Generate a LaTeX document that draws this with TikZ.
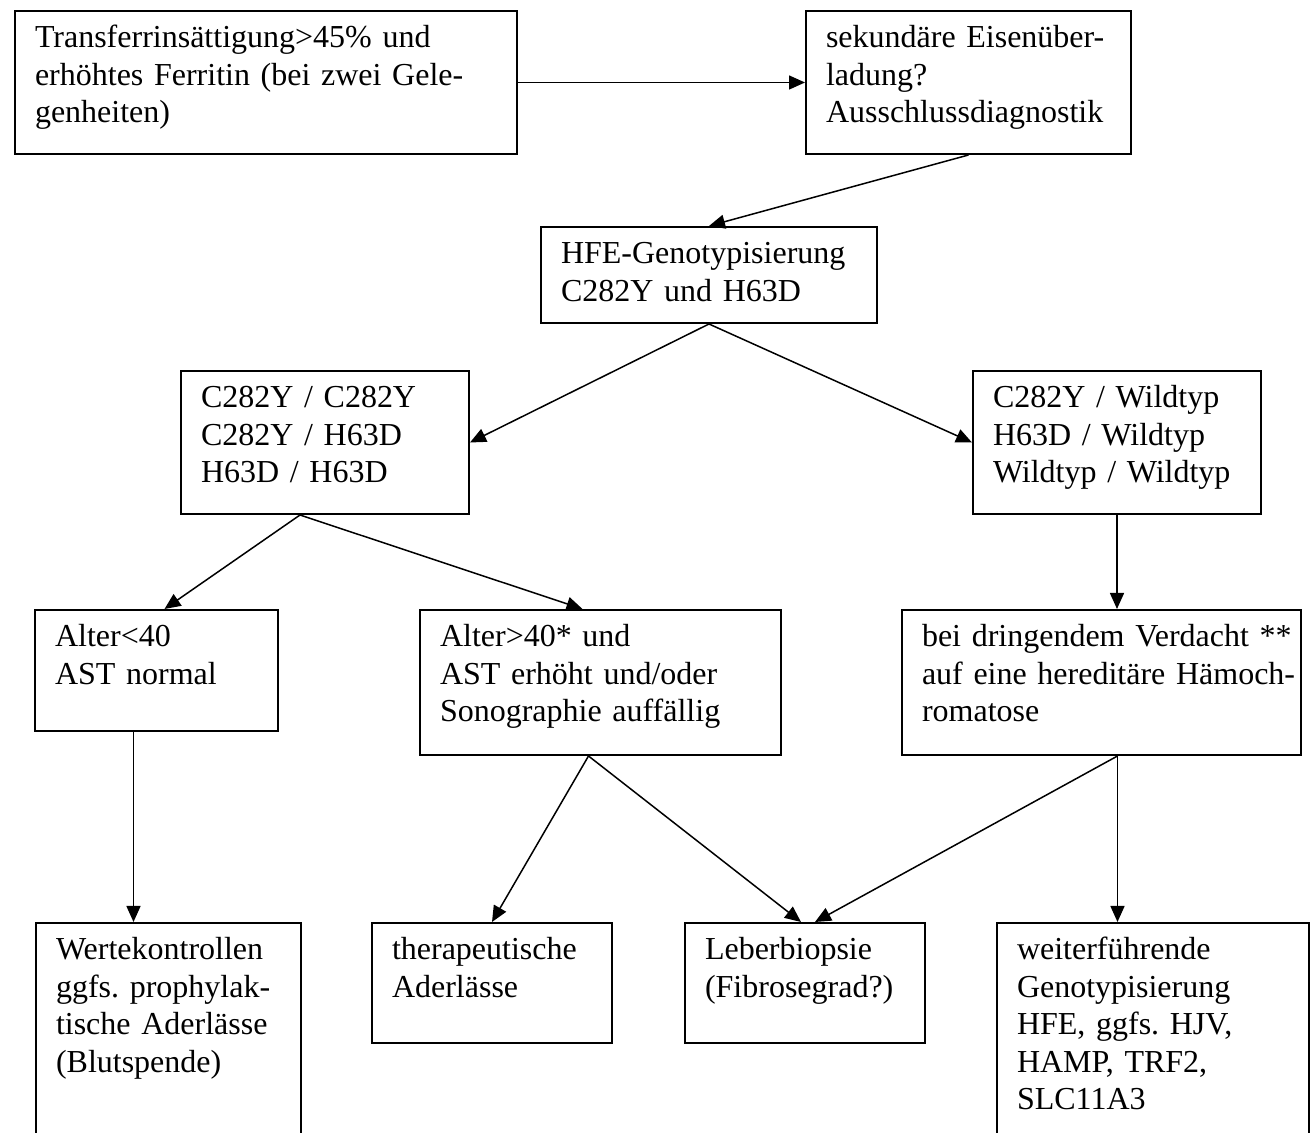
\documentclass[tikz,border=0pt]{standalone}
\usepackage{fontspec}
\setmainfont{Liberation Serif}
\frenchspacing
\usetikzlibrary{arrows.meta,calc}
\tikzset{
    kasten/.style={draw, line width=1pt, anchor=north west, inner xsep=0pt, inner ysep=0pt,
        text height=18.5pt, font=\fontsize{16}{18.75}\selectfont,
        execute at begin node={\leftskip=10pt\rightskip=0pt plus 1fil}},
    pfeil/.style={line width=0.75pt, -{Triangle[length=8pt,width=7pt]}}
}
\begin{document}
\begin{tikzpicture}[x=0.5pt,y=-0.5pt]
    \useasboundingbox (0,0) rectangle (1314,1133);
    \clip (0,0) rectangle (1314,1133);
    % Kaesten
    \node[kasten, text width=251pt, text depth=53pt] (trans) at (14,10) {Transferrinsättigung>45\% und\\erhöhtes Ferritin (bei zwei Gele-\\genheiten)};
    \node[kasten, text width=162.5pt, text depth=53pt] (sek) at (805,10) {sekundäre Eisenüber-\\ladung?\\Ausschlussdiagnostik};
    \node[kasten, text width=168pt, text depth=29.5pt] (hfe) at (540,226) {HFE-Genotypisierung\\C282Y und H63D};
    \node[kasten, text width=144pt, text depth=53pt] (gtl) at (180,370) {C282Y / C282Y\\C282Y / H63D\\H63D / H63D};
    \node[kasten, text width=144pt, text depth=53pt] (gtr) at (972,370) {C282Y / Wildtyp\\H63D / Wildtyp\\Wildtyp / Wildtyp};
    \node[kasten, text width=121.5pt, text depth=42pt] (jung) at (34,609) {Alter<40\\AST normal};
    \node[kasten, text width=180.5pt, text depth=54pt] (alt) at (419,609) {Alter>40* und\\AST erhöht und/oder\\Sonographie auffällig};
    \node[kasten, text width=199.5pt, text depth=54pt] (verd) at (901,609) {bei dringendem Verdacht **\\auf eine hereditäre Hämoch-\\romatose};
    \node[kasten, text width=132.5pt, text depth=111.5pt] (werte) at (35,922) {Wertekontrollen\\ggfs. prophylak-\\tische Aderlässe\\(Blutspende)};
    \node[kasten, text width=120pt, text depth=41.5pt] (thera) at (371,922) {therapeutische\\Aderlässe};
    \node[kasten, text width=120pt, text depth=41.5pt] (leber) at (684,922) {Leberbiopsie\\(Fibrosegrad?)};
    \node[kasten, text width=156pt, text depth=111.5pt] (weiter) at (996,922) {weiterführende\\Genotypisierung\\HFE, ggfs. HJV,\\HAMP, TRF2,\\SLC11A3};
    % Pfeile
    \coordinate (gtlS) at ($(gtl.south)+(-25,0)$);
    \coordinate (jungS) at ($(jung.south)+(-23,0)$);
    \coordinate (altS) at ($(alt.south)+(-12,0)$);
    \coordinate (verdS) at ($(verd.south)+(16,0)$);
    \draw[pfeil] (trans.east) -- (sek.west);
    \draw[pfeil] (sek.south) -- (hfe.north);
    \draw[pfeil] (hfe.south) -- (gtl.east);
    \draw[pfeil] (hfe.south) -- (gtr.west);
    \draw[pfeil] (gtlS) -- ($(jung.north)+(8,0)$);
    \draw[pfeil] (gtlS) -- ($(alt.north)+(-18,0)$);
    \draw[pfeil] (gtr.south) -- (gtr.south |- verd.north);
    \draw[pfeil] (jungS) -- (jungS |- werte.north);
    \draw[pfeil] (altS) -- (thera.north);
    \draw[pfeil] (altS) -- ($(leber.north)+(-4,0)$);
    \draw[pfeil] (verdS) -- ($(leber.north)+(10,0)$);
    \draw[pfeil] (verdS) -- (verdS |- weiter.north);
\end{tikzpicture}
\end{document}
